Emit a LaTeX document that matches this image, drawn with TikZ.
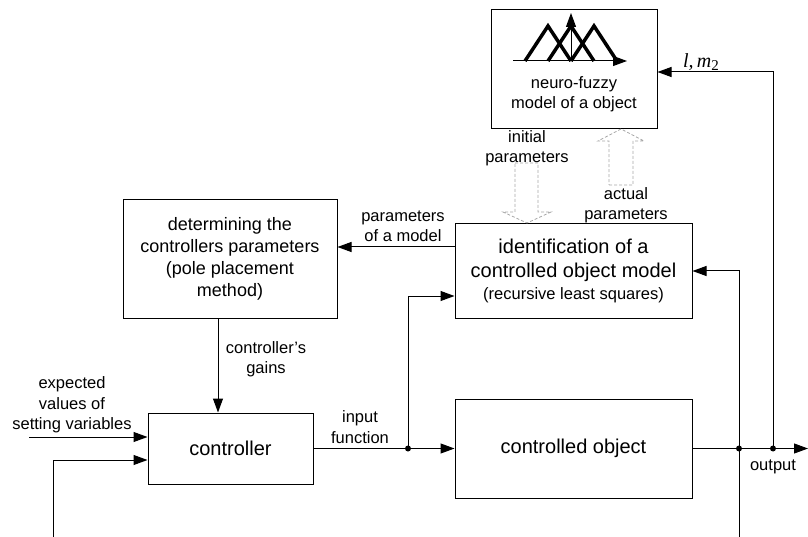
\documentclass[tikz,border=0pt]{standalone}
\usepackage{fontspec}
\setmainfont{Liberation Sans}
\newfontfamily\serifit{Liberation Serif}
\usetikzlibrary{arrows.meta}
\newcommand\fsbig{\fontsize{20}{24}\selectfont}
\newcommand\fsmed{\fontsize{18}{22}\selectfont}
\newcommand\fssmall{\fontsize{16.5}{20.5}\selectfont}
\begin{document}
\begin{tikzpicture}[x=1pt,y=-1pt,
  blk/.style={draw,line width=1pt,inner sep=0pt},
  arr/.style={line width=1pt,-{Triangle[length=14pt,width=10pt]}},
  ln/.style={line width=1pt},
  lbl/.style={align=center,font=\fssmall,inner sep=0pt},
  hollow/.style={draw=gray!70,dash pattern=on 3pt off 2pt,line width=0.8pt},
  dot/.style={circle,fill=black,inner sep=0pt,minimum size=6pt}]
\useasboundingbox (0,0) rectangle (808,537);
% blocks
\node[blk,minimum width=166pt,minimum height=119pt] (nf) at (574,69.5) {};
\node[lbl] (nft) at (574,94) {neuro-fuzzy\\model of a object};
\node[blk,minimum width=214pt,minimum height=118pt,align=center,font=\fsmed] (det) at (230,259)
  {determining the\\controllers parameters\\(pole placement\\method)};
\node[blk,minimum width=237pt,minimum height=94pt,align=center,font=\fsbig] (id) at (573.5,271)
  {identification of a\\controlled object model\\[-2pt]{\fssmall (recursive least squares)}};
\node[blk,minimum width=165pt,minimum height=71pt,font=\fsbig] (ctrl) at (230.5,448.5) {controller};
\node[blk,minimum width=237pt,minimum height=99pt,font=\fsbig] (obj) at (573.5,448.5) {controlled object};
% fuzzy icon
\draw[line width=3.5pt,line join=miter] (525,61) -- (548,26) -- (571,61);
\draw[line width=3.5pt,line join=miter] (548,61) -- (571,26) -- (594,61);
\draw[line width=3.5pt,line join=miter] (571,61) -- (594,26) -- (617,61);
\draw[line width=1pt,-{Triangle[length=14pt,width=10pt]}] (513,61) -- (627,61);
\draw[line width=1pt,-{Triangle[length=14pt,width=10pt]}] (571,61) -- (571,13);
% hollow dashed arrows
\draw[hollow] (515,163) -- (538,163) -- (538,212) -- (551,212) -- (527,223) -- (503,212) -- (515,212) -- cycle;
\draw[hollow] (609,185) -- (633,185) -- (633,141) -- (644,141) -- (621,129) -- (598,141) -- (609,141) -- cycle;
\node[lbl] (lini) at (527,148) {initial\\parameters};
\node[lbl] (lact) at (626,205) {actual\\parameters};
% coordinates
\coordinate (j1) at (408,448.5);
\coordinate (j2) at (739,448.5);
\coordinate (j3) at (773,448.5);
\coordinate (outE) at (808,448.5);
\coordinate (in1) at (29,437);
\coordinate (in2) at (53,537);
\coordinate (bot2) at (739,537);
\coordinate (gx) at (218,0);
% connectors
\draw[arr] (det.south -| gx) -- (ctrl.north -| gx);
\draw[arr] ([yshift=24pt]id.west) -- ([yshift=12pt]det.east);
\draw[ln] (ctrl.east) -- (j1);
\draw[arr] (j1) -- (obj.west);
\draw[arr] (j1) |- ([yshift=-25pt]id.west);
\draw[ln] (obj.east) -- (j2) -- (j3);
\draw[arr] (j3) -- (outE);
\draw[arr] (bot2) |- (id.east);
\draw[arr] (j3) |- ([yshift=-2.5pt]nf.east);
\draw[arr] (in1) -- ([yshift=11.5pt]ctrl.west);
\draw[arr] (in2) |- ([yshift=-11.5pt]ctrl.west);
\node[dot] (d1) at (j1) {};
\node[dot] (d2) at (j2) {};
\node[dot] (d3) at (j3) {};
% labels
\node[lbl] (lexp) at (72,405) {expected\\values of\\setting variables};
\node[lbl] (lin) at (360,427) {input\\function};
\node[lbl] (lgain) at (266,359) {controller's\\gains};
\node[lbl] (lpar) at (403,226) {parameters\\of a model};
\node[lbl] (lout) at (773,467) {output};
\node[inner sep=0pt,font=\fontsize{20}{22}\selectfont] (llm) at (701,62) {\serifit\itshape l,\,m\raisebox{-0.35ex}{\upshape\fontsize{15}{16}\selectfont 2}};
\end{tikzpicture}
\end{document}
